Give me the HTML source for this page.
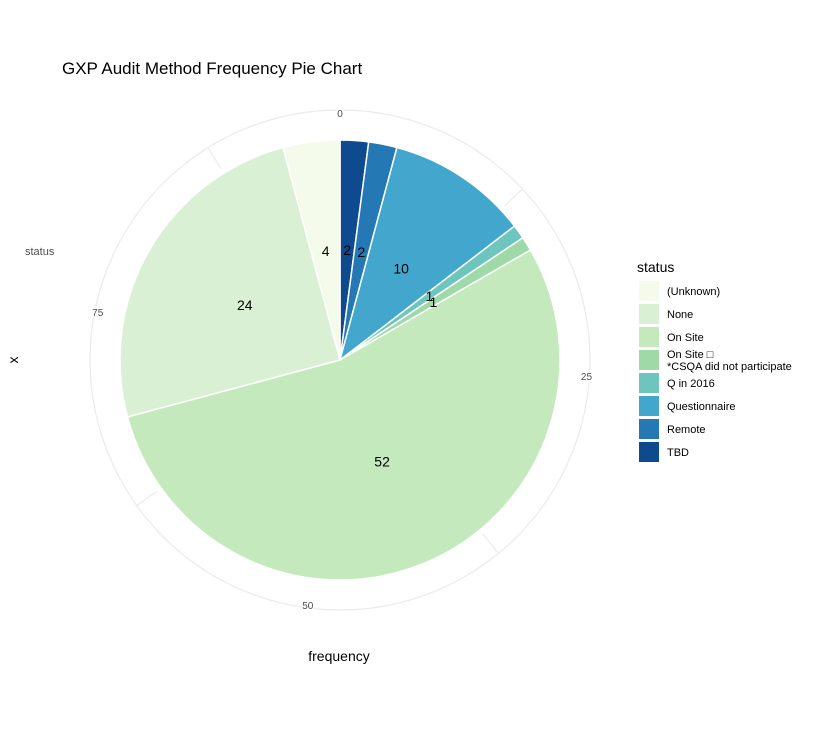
<!DOCTYPE html>
<html><head><meta charset="utf-8"><style>body{margin:0;background:#fff}svg text{font-family:"Liberation Sans",sans-serif}</style></head>
<body>
<svg id="c" width="816" height="725" xmlns="http://www.w3.org/2000/svg">
<text x="62" y="74" font-size="17" fill="#000">GXP Audit Method Frequency Pie Chart</text>
<text x="25" y="255" font-size="11" fill="#4d4d4d">status</text>
<text x="18" y="360" font-size="14" transform="rotate(-90 18 360)" text-anchor="middle">x</text>
<text x="339" y="661" font-size="14" text-anchor="middle">frequency</text>
<g id="grid"></g><g id="slices"></g><g id="labels"></g><g id="legend"></g>
</svg>
<script>
const categories=["TBD","Remote","Questionnaire","Q in 2016","On Site *CSQA","On Site","None","(Unknown)"];
const values=[2,2,10,1,1,52,24,4];
const colors=["#0d4a8e","#2479b5","#42a6cd","#6dc5bd","#9fd9a7","#c4e9bd","#d9f0d4","#f4fbea"];
const ticks=[0,25,50,75];
const legendNames=["(Unknown)","None","On Site","On Site \u25A1|*CSQA did not participate","Q in 2016","Questionnaire","Remote","TBD"];
const legendColors=["#f4fbea","#d9f0d4","#c4e9bd","#9fd9a7","#6dc5bd","#42a6cd","#2479b5","#0d4a8e"];
const NS="http://www.w3.org/2000/svg",cx=340,cy=360,R=220,GR=250;
const total=values.reduce((a,b)=>a+b,0);
const ang=v=>v/total*2*Math.PI;
const pt=(a,r)=>[cx+r*Math.sin(a),cy-r*Math.cos(a)];
function mk(t,a,p){const e=document.createElementNS(NS,t);for(const k in a)e.setAttribute(k,a[k]);p.appendChild(e);return e;}
const g=document.getElementById('grid');
let ci=mk('circle',{cx:cx,cy:cy,r:GR,fill:'none',stroke:'#ebebeb','stroke-width':1.2},g);


ticks.forEach(t=>{const a=ang(t);
 const [tx,ty]=pt(a,GR-3);
 const tt=mk('text',{x:tx,y:ty+4,'font-size':10,fill:'#4d4d4d','text-anchor':'middle',stroke:'#fff','stroke-width':3,'paint-order':'stroke'},g);tt.textContent=t;
 
 
});
[12.5,37.5,62.5,87.5].forEach(t=>{const a=ang(t);const [x1,y1]=pt(a,R+5),[x2,y2]=pt(a,GR);
 const l=mk('line',{x1,y1,x2,y2,stroke:'#ebebeb','stroke-width':1.2},g);
 
 });
const s=document.getElementById('slices'),lb=document.getElementById('labels');
let cum=0;
values.forEach((v,i)=>{const a0=ang(cum),a1=ang(cum+v);const [x0,y0]=pt(a0,R),[x1,y1]=pt(a1,R);
 const p=mk('path',{d:`M${cx},${cy}L${x0},${y0}A${R},${R} 0 ${a1-a0>Math.PI?1:0} 1 ${x1},${y1}Z`,fill:colors[i],stroke:'#fff','stroke-width':1.5},s);
 
 
 const [lx,ly]=pt(ang(cum+v/2),110);
 const t=mk('text',{x:lx,y:ly+5,'font-size':14,'text-anchor':'middle'},lb);t.textContent=v;
 
 
 cum+=v;});
const L=document.getElementById('legend');
const lt=mk('text',{x:637,y:272,'font-size':14},L);lt.textContent='status';


legendNames.forEach((n,i)=>{const y=281+i*23;
 const r=mk('rect',{x:639,y:y,width:20,height:20,fill:legendColors[i]},L);
 
 
 const parts=n.split('|');
 parts.forEach((p,j)=>{const t=mk('text',{x:667,y:(parts.length>1?y+8+j*12:y+14),'font-size':11},L);t.textContent=p;
 
 });
});
</script>
</body></html>
